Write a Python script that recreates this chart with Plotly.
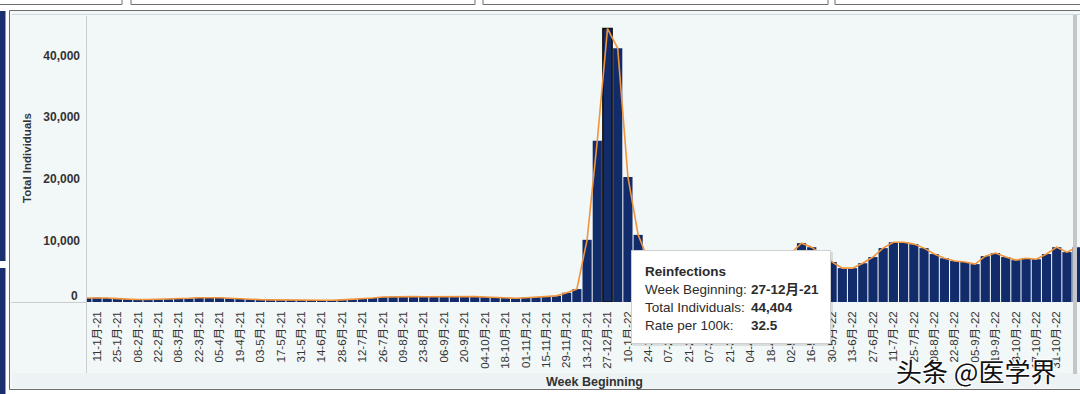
import pandas as pd
import plotly.graph_objects as go

# ---------------- data ----------------
week_dates = pd.date_range("2021-01-04", periods=98, freq="7D")
week_labels = [f"{d.day:02d}-{d.month}月-{d.year % 100:02d}" for d in week_dates]

reinfections = [
    650, 700, 650, 550, 450, 400, 400, 420, 450, 500,          # 04-1 .. 08-3-21
    600, 700, 750, 700, 600, 500, 420, 380, 350, 320,          # 15-3 .. 17-5
    300, 280, 260, 250, 280, 350, 420, 500, 650, 800,          # 24-5 .. 26-7
    850, 880, 870, 860, 880, 900, 920, 900, 870, 800,          # 02-8 .. 04-10
    720, 640, 620, 700, 800, 880, 1000, 1500, 2100, 10100,     # 11-10 .. 13-12
    26200, 44404, 41200, 20300, 10900, 6800, 6000, 5600, 5300, 5400,  # 20-12-21 .. 21-2-22
    5800, 6400, 6900, 7200, 7000, 6600, 6300, 6500, 7100, 8000,       # 28-2 .. 02-5
    9560, 8900, 7600, 6500, 5500, 5500, 6300, 7300, 8750, 9700,       # 09-5 .. 11-7
    9700, 9400, 8750, 7800, 7100, 6650, 6500, 6150, 7450, 7950,       # 18-7 .. 12-9
    7300, 6800, 7100, 6950, 7800, 8900, 8100, 8900,                   # 19-9 .. 14-11
]

y_ticks = [10000, 20000, 30000, 40000]   # "0" label is drawn slightly raised, as in the original
selected_index = 51            # 27-12-21, highlighted bar
selected_rate = 32.5

# ---------------- geometry helpers (pixel -> paper) ----------------
W, H = 1080, 394
ML, MR, MT, MB = 87, 0, 16, 92
PW, PH = W - ML - MR, H - MT - MB


def px(xp):
    return (xp - ML) / PW


def py(yp):
    return (H - MB - yp) / PH


FONT = "Liberation Sans, Arial, Noto Sans CJK SC, sans-serif"
BAR = "#112B6B"
LINE = "#F1953D"
PANEL = "#F2F7F7"

idx = list(range(len(week_labels)))
line_w = [1.6 if i == selected_index else 0 for i in idx]
line_c = ["#111111" if i == selected_index else BAR for i in idx]

fig = go.Figure()
fig.add_trace(go.Bar(
    x=idx, y=reinfections,
    marker=dict(color=BAR, line=dict(color=line_c, width=line_w)),
    hoverinfo="skip", showlegend=False,
))
fig.add_trace(go.Scatter(
    x=idx, y=reinfections, mode="lines",
    line=dict(color=LINE, width=1.6),
    hoverinfo="skip", showlegend=False,
))

tick_idx = [i for i in idx if i % 2 == 1]
fig.update_xaxes(
    range=[0.0206, 0.0206 + PW / 10.21],
    tickmode="array", tickvals=tick_idx, ticktext=[week_labels[i] for i in tick_idx],
    tickangle=-90, ticks="", ticklabelstandoff=6,
    tickfont=dict(family=FONT, size=11.5, color="#333333"),
    showgrid=False, zeroline=False, showline=False,
)
fig.update_yaxes(
    range=[0, 46450],
    tickmode="array", tickvals=y_ticks, tickformat=",",
    ticks="", ticklabelstandoff=6,
    tickfont=dict(family=FONT, size=12, color="#333333", weight="bold"),
    showgrid=False, zeroline=False, showline=False,
)

shapes = []
# panel background and borders
shapes.append(dict(type="rect", xref="paper", yref="paper", layer="below",
                   x0=px(9.5), x1=px(1085), y0=py(389.5), y1=py(10.5),
                   fillcolor=PANEL, line=dict(color="#6E6E6E", width=1)))
shapes.append(dict(type="rect", xref="paper", yref="paper", layer="below",
                   x0=px(12), x1=px(1085), y0=py(373), y1=py(387.5),
                   fillcolor="#EDF2F4", line=dict(width=0)))
shapes.append(dict(type="line", xref="paper", yref="paper", layer="below",
                   x0=px(11.5), x1=px(1085), y0=py(14.5), y1=py(14.5),
                   line=dict(color="#D4D8DA", width=1)))
# top filter boxes (cut off)
for a, b in [(-2, 122), (131, 475), (483, 828), (835, 1085)]:
    shapes.append(dict(type="rect", xref="paper", yref="paper", layer="below",
                       x0=px(a), x1=px(b), y0=py(4.5), y1=py(-10),
                       fillcolor="white", line=dict(color="#6E6E6E", width=1)))
# left navy strip
shapes.append(dict(type="rect", xref="paper", yref="paper", layer="below",
                   x0=px(0), x1=px(5.5), y0=py(261), y1=py(11),
                   fillcolor="#1A2F6E", line=dict(width=0)))
shapes.append(dict(type="rect", xref="paper", yref="paper", layer="below",
                   x0=px(0), x1=px(5.5), y0=py(394), y1=py(268),
                   fillcolor="#1A2F6E", line=dict(width=0)))
# axis lines
shapes.append(dict(type="line", xref="paper", yref="paper", layer="above",
                   x0=px(86.5), x1=px(86.5), y0=py(373), y1=py(16),
                   line=dict(color="#C9CDD0", width=1)))
shapes.append(dict(type="line", xref="paper", yref="paper", layer="above",
                   x0=px(11), x1=px(86.5), y0=py(302.5), y1=py(302.5),
                   line=dict(color="#C9CDD0", width=1)))
# scrollbar strip at right
shapes.append(dict(type="rect", xref="paper", yref="paper", layer="above",
                   x0=px(1073), x1=px(1077), y0=py(374), y1=py(15),
                   fillcolor="#C4C6C8", line=dict(width=0)))
# tooltip box (shadow + box)
shapes.append(dict(type="rect", xref="paper", yref="paper", layer="above",
                   x0=px(633), x1=px(833), y0=py(346), y1=py(252),
                   fillcolor="rgba(0,0,0,0.10)", line=dict(width=0)))
shapes.append(dict(type="rect", xref="paper", yref="paper", layer="above",
                   x0=px(631.5), x1=px(830.5), y0=py(343.5), y1=py(250.5),
                   fillcolor="white", line=dict(color="#CFCFCF", width=1)))
fig.update_layout(shapes=shapes)

ann = []
ann.append(dict(text="<b>0</b>", xref="paper", yref="paper",
                x=px(80), y=py(296), showarrow=False,
                font=dict(family=FONT, size=12, color="#333333"),
                xanchor="right", yanchor="middle"))
ann.append(dict(text="<b>Total Individuals</b>", xref="paper", yref="paper",
                x=px(27), y=py(158), textangle=-90, showarrow=False,
                font=dict(family=FONT, size=11.5, color="#333333"),
                xanchor="center", yanchor="middle"))
ann.append(dict(text="<b>Week Beginning</b>", xref="paper", yref="paper",
                x=px(594), y=py(382), showarrow=False,
                font=dict(family=FONT, size=12.5, color="#333333"),
                xanchor="center", yanchor="middle"))
# tooltip text
tip_rows = [
    ("<b>Reinfections</b>", None, 271),
    ("Week Beginning:", f"<b>{week_labels[selected_index]}</b>", 289),
    ("Total Individuals:", f"<b>{reinfections[selected_index]:,}</b>", 307),
    ("Rate per 100k:", f"<b>{selected_rate}</b>", 325),
]
for lab, val, yy in tip_rows:
    ann.append(dict(text=lab, xref="paper", yref="paper", x=px(643), y=py(yy),
                    showarrow=False, xanchor="left", yanchor="middle",
                    font=dict(family=FONT, size=13.5, color="#2B2B2B")))
    if val is not None:
        ann.append(dict(text=val, xref="paper", yref="paper", x=px(749), y=py(yy),
                        showarrow=False, xanchor="left", yanchor="middle",
                        font=dict(family=FONT, size=13.5, color="#2B2B2B")))
# watermark
ann.append(dict(text="头条 @医学界", xref="paper", yref="paper", x=px(976), y=py(370),
                showarrow=False, xanchor="center", yanchor="middle",
                font=dict(family="Noto Sans CJK SC", size=26, color="#111111",
                          shadow="1px 1px 0 white, -1px -1px 0 white, 1px -1px 0 white, -1px 1px 0 white")))
fig.update_layout(annotations=ann)

fig.update_layout(
    width=W, height=H,
    margin=dict(l=ML, r=MR, t=MT, b=MB, pad=0),
    paper_bgcolor="white", plot_bgcolor=PANEL,
    bargap=0.1, showlegend=False,
    font=dict(family=FONT),
)

fig.write_html("out.html", config={"displayModeBar": False},
               post_script="document.body.style.margin='0';document.body.style.overflow='hidden';")
